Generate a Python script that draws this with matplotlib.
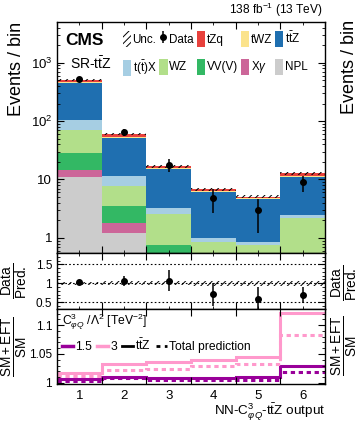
import numpy as np
import matplotlib
matplotlib.use('Agg')
import matplotlib.pyplot as plt
from matplotlib.patches import Patch
from matplotlib.lines import Line2D
from matplotlib.ticker import FixedLocator, MultipleLocator, FuncFormatter, LogLocator, NullFormatter

plt.rcParams['font.family'] = ['Liberation Sans', 'DejaVu Sans']
plt.rcParams['mathtext.fontset'] = 'custom'
plt.rcParams['mathtext.rm'] = 'Liberation Sans'
plt.rcParams['mathtext.it'] = 'Liberation Sans:italic'
plt.rcParams['mathtext.bf'] = 'Liberation Sans:bold'
plt.rcParams['hatch.linewidth'] = 0.7

bins = [1, 2, 3, 4, 5, 6]
edges = np.arange(0.5, 7.0, 1.0)

# backgrounds, stacked bottom -> top
npl  = [11.2, 1.2, 0.2, 0.1, 0.1, 0.15]
xgam = [3.3, 0.6, 0.1, 0.05, 0.05, 0.05]
vvv  = [13.5, 1.75, 0.46, 0.3, 0.25, 0.3]
wz   = [43.0, 4.05, 1.79, 0.41, 0.36, 1.68]
ttx  = [32.0, 4.0, 0.68, 0.14, 0.10, 0.30]
ttz  = [343.0, 39.4, 11.77, 5.2, 3.81, 8.72]
twz  = [20.0, 3.0, 0.6, 0.2, 0.15, 0.5]
tzq  = [49.0, 6.0, 1.1, 0.4, 0.28, 1.1]
unc  = [0.04, 0.05, 0.05, 0.06, 0.06, 0.06]   # relative

data    = [530, 64, 17.8, 4.9, 3.0, 8.9]
data_lo = [507, 56, 13.5, 2.7, 1.23, 6.0]
data_hi = [553, 72, 22.5, 6.9, 4.6, 11.6]

# SM+EFT / SM
eft15_ttz = [1.006, 1.0106, 1.0088, 1.0083, 1.010, 1.0295]
eft15_tot = [1.003, 1.0078, 1.0048, 1.0042, 1.0048, 1.0194]
eft3_ttz  = [1.0177, 1.0325, 1.0353, 1.039, 1.044, 1.121]
eft3_tot  = [1.012, 1.0224, 1.024, 1.0295, 1.032, 1.083]

procs = [
    ('NPL', npl, '#cccccc'),
    (r'X$\gamma$', xgam, '#cc6699'),
    ('VV(V)', vvv, '#33b864'),
    ('WZ', wz, '#b2df8a'),
    (r'$\mathrm{t(\bar{t})X}$', ttx, '#a6cee3'),
    (r'$\mathrm{t\bar{t}Z}$', ttz, '#1f6fb0'),
    ('tWZ', twz, '#fbe38c'),
    ('tZq', tzq, '#e8413c'),
]

x = np.array(bins)
total = np.sum([np.array(v) for _, v, _ in procs], axis=0)
unc = np.array(unc)
data = np.array(data)
yerr = [data - np.array(data_lo), np.array(data_hi) - data]

fig = plt.figure(figsize=(3.61, 4.22), dpi=100)
W, H = 361., 422.
ax = fig.add_axes([57/W, 1-253/H, 268/W, 231/H])
axr = fig.add_axes([57/W, 1-309/H, 268/W, 56/H], sharex=ax)
axe = fig.add_axes([57/W, 1-384/H, 268/W, 75/H], sharex=ax)

# main panel
bottom = np.zeros(len(bins))
handles = {}
for name, vals, col in procs:
    h = ax.bar(x, vals, width=1.0, bottom=bottom, color=col, lw=0, label=name)
    handles[name] = h
    bottom = bottom + np.array(vals)
ax.bar(x, 2*unc*total, width=1.0, bottom=total*(1-unc), fill=False, lw=0,
       hatch='/////', edgecolor='black')
hd = ax.errorbar(x, data, yerr=yerr, fmt='o', color='black', ms=4, lw=1.1, capsize=0)

ax.set_yscale('log')
ax.set_ylim(0.55, 5000)
ax.set_xlim(0.5, 6.5)
ax.yaxis.set_major_locator(LogLocator(base=10, numticks=10))
ax.yaxis.set_minor_locator(LogLocator(base=10, subs=np.arange(2, 10), numticks=10))
ax.yaxis.set_minor_formatter(NullFormatter())

def logfmt(v, pos):
    if v < 1.5:
        return '1'
    if v < 15:
        return '10'
    return r'$10^{%d}$' % int(round(np.log10(v)))
ax.yaxis.set_major_formatter(FuncFormatter(logfmt))
ax.set_ylabel('Events / bin', fontsize=13, loc='top')
ax.yaxis.set_label_coords(-0.12, 1.0)

unc_h = Patch(facecolor='none', edgecolor='black', hatch='/////', lw=0)
order = [(unc_h, 'Unc.'), (handles[procs[4][0]], procs[4][0]),
         (hd, 'Data'), (handles['WZ'], 'WZ'),
         (handles['tZq'], 'tZq'), (handles['VV(V)'], 'VV(V)'),
         (handles['tWZ'], 'tWZ'), (handles[procs[1][0]], procs[1][0]),
         (handles[procs[5][0]], procs[5][0]), (handles['NPL'], 'NPL')]
ax.legend([o[0] for o in order], [o[1] for o in order], ncol=5, frameon=False,
          loc='upper left', bbox_to_anchor=(0.245, 0.962), fontsize=8.4,
          handlelength=0.7, handleheight=1.7, handletextpad=0.15,
          columnspacing=0.25, labelspacing=1.0, borderpad=0, borderaxespad=0)

ax.text(0.03, 0.922, 'CMS', transform=ax.transAxes, fontsize=12.5,
        fontweight='bold', va='center', ha='left')
ax.text(0.05, 0.818, r'SR-$\mathrm{t\bar{t}Z}$', transform=ax.transAxes,
        fontsize=10, va='center', ha='left')
ax.text(0.99, 1.012, r'138 fb$^{-1}$ (13 TeV)', transform=ax.transAxes,
        fontsize=8.6, ha='right', va='bottom')

# ratio panel
for yv in [0.5, 1.0, 1.5]:
    axr.axhline(yv, color='black', lw=0.8, ls=(0, (1.5, 2)))
axr.bar(x, 2*unc, width=1.0, bottom=1-unc, fill=False, lw=0, hatch='/////',
        edgecolor='black')
axr.errorbar(x, data/total, yerr=[yerr[0]/total, yerr[1]/total], fmt='o',
             color='black', ms=4, lw=1.1, capsize=0)
axr.set_ylim(0.32, 1.8)
axr.yaxis.set_major_locator(FixedLocator([0.5, 1.0, 1.5]))
axr.yaxis.set_minor_locator(MultipleLocator(0.1))
axr.yaxis.set_major_formatter(FuncFormatter(lambda v, p: '%g' % v))
axr.set_ylabel(r'$\frac{\mathrm{Data}}{\mathrm{Pred.}}$', fontsize=14)
axr.yaxis.set_label_coords(-0.1, 0.5)

# EFT panel
axe.stairs(eft15_ttz, edges, baseline=None, color='#990099', lw=2.2)
axe.stairs(eft15_tot, edges, baseline=None, color='#990099', lw=2.2, ls=(0, (1.4, 1.2)))
axe.stairs(eft3_ttz, edges, baseline=None, color='#ff99cc', lw=2.2)
axe.stairs(eft3_tot, edges, baseline=None, color='#ff99cc', lw=2.2, ls=(0, (1.4, 1.2)))
axe.set_ylim(0.998, 1.128)
axe.yaxis.set_major_locator(FixedLocator([1.0, 1.05, 1.1]))
axe.yaxis.set_minor_locator(MultipleLocator(0.01))
axe.yaxis.set_major_formatter(FuncFormatter(lambda v, p: '%g' % v))
axe.set_ylabel(r'$\frac{\mathrm{SM+EFT}}{\mathrm{SM}}$', fontsize=14)
axe.yaxis.set_label_coords(-0.1, 0.5)
eh = [Line2D([], [], color='#990099', lw=2.5),
      Line2D([], [], color='#ff99cc', lw=2.5),
      Line2D([], [], color='black', lw=2),
      Line2D([], [], color='black', lw=2, ls=(0, (1.4, 1.6)))]
axe.legend(eh, ['1.5', '3', r'$\mathrm{t\bar{t}Z}$', 'Total prediction'], ncol=4,
           frameon=False, loc='upper left', bbox_to_anchor=(0.01, 1.0),
           title=r'C$^{3}_{\varphi Q}$ /$\Lambda^{2}$ [TeV$^{-2}$]',
           title_fontsize=8.7, fontsize=8.7, alignment='left',
           handlelength=0.9, handletextpad=0.2, columnspacing=0.4,
           borderpad=0.1, borderaxespad=0.1)
axe.set_xlabel(r'NN-C$^{3}_{\varphi Q}$-$\mathrm{t\bar{t}Z}$ output', fontsize=9.7,
               loc='right', labelpad=0)

for a in (ax, axr, axe):
    a.xaxis.set_major_locator(FixedLocator(edges))
    a.tick_params(which='both', direction='in', top=True, right=True)
    a.tick_params(which='major', length=5, width=0.8)
    a.tick_params(which='minor', length=2.5, width=0.6)
    for s in a.spines.values():
        s.set_linewidth(1.0)
ax.tick_params(labelsize=9.5)
axr.tick_params(labelsize=8.5)
axe.tick_params(labelsize=8.5)
ax.tick_params(axis='x', which='both', labelbottom=False)
axr.tick_params(axis='x', which='both', labelbottom=False)
axe.xaxis.set_minor_locator(FixedLocator(x))
axe.xaxis.set_major_formatter(NullFormatter())
axe.xaxis.set_minor_formatter(FuncFormatter(lambda v, p: '%d' % v))
axe.tick_params(axis='x', which='minor', length=0, labelsize=9.5, pad=4)

# labels of the neighbouring panel cut at the right edge
fig.text(358/W, 1-20/H, 'Events / bin', rotation=90, ha='right', va='top', fontsize=13)
fig.text(360/W, 1-283/H, r'$\frac{\mathrm{Data}}{\mathrm{Pred.}}$', rotation=90,
         ha='right', va='center', fontsize=14)
fig.text(360/W, 1-346/H, r'$\frac{\mathrm{SM+EFT}}{\mathrm{SM}}$', rotation=90,
         ha='right', va='center', fontsize=14)

fig.savefig('out.png', dpi=100)
